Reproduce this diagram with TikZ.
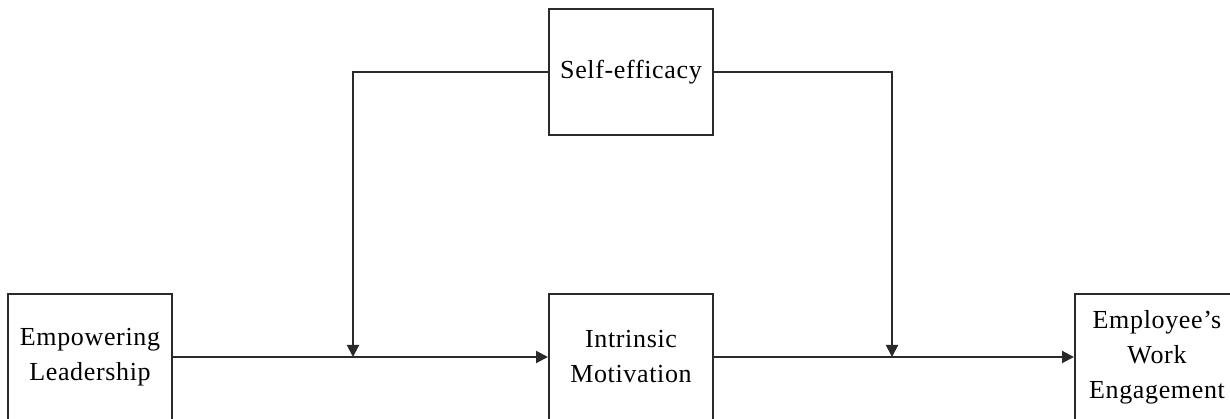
\documentclass[tikz,border=0pt]{standalone}
\usepackage{fontspec}
\setmainfont{Liberation Serif}[LetterSpace=2.5]
\definecolor{lineclr}{HTML}{2A2A2A}
\usepackage{tikz}
\usetikzlibrary{arrows.meta, positioning}
\tikzset{
  varbox/.style={draw=lineclr, line width=2pt, rectangle, fill=white,
                 minimum width=164pt, minimum height=126pt, inner sep=0pt,
                 font=\fontsize{26}{35}\selectfont, align=center},
  arr/.style={-{Triangle[length=12pt, width=12pt]}, line width=2pt, lineclr},
}

\begin{document}
\begin{tikzpicture}[x=1pt, y=1pt]
        \useasboundingbox (0,0) rectangle (1230,419);
        \node[varbox] (intr) at (631,62) {Intrinsic\\Motivation};
        \node[varbox, left=375pt of intr]  (emp)  {Empowering\\Leadership};
        \node[varbox, right=360pt of intr] (eng)  {Employee’s\\Work\\Engagement};
        \node[varbox, above=157pt of intr] (self) {Self-efficacy};

        \coordinate (j1) at (353,62);
        \coordinate (j2) at (892,62);

        \draw[arr] (emp) -- (intr);
        \draw[arr] (intr) -- (eng);
        \draw[arr] (self.west) -| (j1);
        \draw[arr] (self.east) -| (j2);
      \end{tikzpicture}
\end{document}
